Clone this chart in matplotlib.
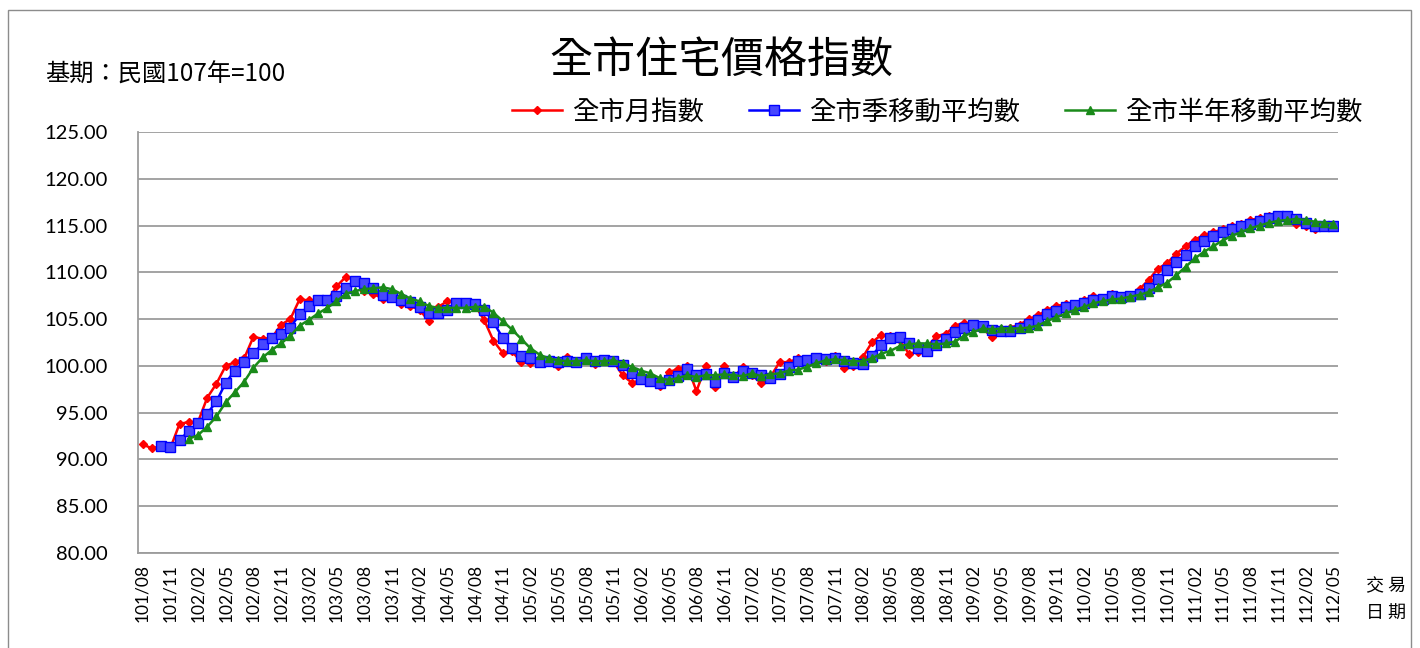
import numpy as np
import matplotlib
matplotlib.use("Agg")
import matplotlib.pyplot as plt
from matplotlib.lines import Line2D
from matplotlib.patches import Rectangle

CJK = ['Noto Sans CJK TC', 'DejaVu Sans']
NUM = ['Lato', 'DejaVu Sans']
nan = np.nan

tick_labels = ["101/08", "101/11", "102/02", "102/05", "102/08", "102/11", "103/02", "103/05",
               "103/08", "103/11", "104/02", "104/05", "104/08", "104/11", "105/02", "105/05",
               "105/08", "105/11", "106/02", "106/05", "106/08", "106/11", "107/02", "107/05",
               "107/08", "107/11", "108/02", "108/05", "108/08", "108/11", "109/02", "109/05",
               "109/08", "109/11", "110/02", "110/05", "110/08", "110/11", "111/02", "111/05",
               "111/08", "111/11", "112/02", "112/05"]

monthly = [91.6, 91.2, 91.4, 91.2, 93.8, 94.0, 94.0, 96.6, 98.1, 100.0,
           100.4, 100.8, 103.1, 102.9, 103.0, 104.4, 105.0, 107.1, 107.0, 107.0,
           106.9, 108.5, 109.5, 109.2, 108.0, 107.7, 107.2, 107.3, 106.6, 106.4,
           106.0, 104.8, 106.3, 106.9, 106.8, 106.5, 106.5, 104.9, 102.7, 101.4,
           101.6, 100.4, 100.3, 100.6, 100.5, 100.0, 100.9, 100.4, 101.0, 100.2,
           100.7, 100.5, 99.0, 98.2, 98.5, 98.4, 97.8, 99.3, 99.7, 100.0,
           97.3, 100.0, 97.7, 100.0, 98.7, 99.9, 99.0, 98.2, 98.8, 100.4,
           100.4, 100.8, 100.7, 100.9, 100.5, 101.1, 99.8, 100.0, 100.9, 102.5,
           103.3, 103.2, 102.8, 101.3, 101.5, 102.0, 103.2, 103.4, 104.3, 104.6,
           104.2, 104.0, 103.1, 103.9, 104.1, 104.4, 105.0, 105.4, 106.0, 106.4,
           106.6, 106.5, 107.0, 107.5, 107.2, 107.7, 107.3, 107.5, 108.2, 109.2,
           110.4, 111.0, 112.0, 112.8, 113.5, 114.0, 114.3, 114.6, 114.9, 115.2,
           115.6, 115.8, 116.0, 116.1, 115.8, 115.2, 115.0, 114.6, 114.9, 115.1]

quarterly = [nan, nan, 91.4, 91.3, 92.1, 93.0, 93.9, 94.9, 96.2, 98.2,
             99.5, 100.4, 101.4, 102.3, 103.0, 103.4, 104.1, 105.5, 106.4, 107.0,
             107.0, 107.5, 108.3, 109.1, 108.9, 108.3, 107.6, 107.4, 107.0, 106.8,
             106.3, 105.7, 105.7, 106.0, 106.7, 106.7, 106.6, 106.0, 104.7, 103.0,
             101.9, 101.1, 100.8, 100.4, 100.5, 100.4, 100.5, 100.4, 100.8, 100.5,
             100.6, 100.5, 100.1, 99.2, 98.6, 98.4, 98.2, 98.5, 98.9, 99.7,
             99.0, 99.1, 98.3, 99.2, 98.8, 99.5, 99.2, 99.0, 98.7, 99.1,
             99.9, 100.5, 100.6, 100.8, 100.7, 100.8, 100.5, 100.3, 100.2, 101.1,
             102.2, 103.0, 103.1, 102.4, 101.9, 101.6, 102.2, 102.9, 103.6, 104.1,
             104.4, 104.3, 103.8, 103.7, 103.7, 104.1, 104.5, 104.9, 105.5, 105.9,
             106.3, 106.5, 106.7, 107.0, 107.2, 107.5, 107.4, 107.5, 107.7, 108.3,
             109.3, 110.2, 111.1, 111.9, 112.8, 113.4, 113.9, 114.3, 114.6, 114.9,
             115.2, 115.5, 115.8, 116.0, 116.0, 115.7, 115.3, 114.9, 114.9, 115.0]

half_year = [nan, nan, nan, nan, nan, 92.2, 92.6, 93.5, 94.6, 96.1,
             97.2, 98.3, 99.8, 100.9, 101.7, 102.4, 103.2, 104.3, 104.9, 105.6,
             106.2, 106.9, 107.7, 108.0, 108.2, 108.3, 108.4, 108.2, 107.7, 107.2,
             106.9, 106.4, 106.2, 106.2, 106.2, 106.2, 106.3, 106.3, 105.7, 104.8,
             103.9, 102.9, 101.9, 101.2, 100.8, 100.6, 100.5, 100.5, 100.6, 100.5,
             100.5, 100.6, 100.3, 99.9, 99.5, 99.2, 98.7, 98.5, 98.7, 99.0,
             98.8, 99.0, 99.0, 99.1, 99.0, 98.9, 99.2, 98.9, 99.1, 99.2,
             99.5, 99.6, 99.9, 100.3, 100.6, 100.7, 100.6, 100.5, 100.5, 100.8,
             101.3, 101.6, 102.1, 102.3, 102.4, 102.4, 102.3, 102.4, 102.6, 103.2,
             103.6, 104.0, 103.9, 104.0, 104.0, 104.0, 104.1, 104.3, 104.8, 105.2,
             105.6, 106.0, 106.3, 106.7, 106.9, 107.1, 107.2, 107.4, 107.6, 107.9,
             108.4, 108.9, 109.7, 110.6, 111.5, 112.2, 112.8, 113.4, 113.9, 114.3,
             114.7, 115.0, 115.3, 115.5, 115.6, 115.7, 115.6, 115.4, 115.3, 115.2]

series_names = ["全市月指數", "全市季移動平均數", "全市半年移動平均數"]
y_ticks = [80, 85, 90, 95, 100, 105, 110, 115, 120, 125]

W, H = 1420, 648
fig = plt.figure(figsize=(W / 100, H / 100), dpi=100)
fig.patch.set_facecolor("white")
fig.patches.append(Rectangle((8 / W, -0.01), 1403 / W, 1 - 10 / H + 0.01, transform=fig.transFigure,
                             fill=False, edgecolor="#8c8c8c", linewidth=1.0))

ax = fig.add_axes([138 / W, 1 - 553 / H, 1200 / W, 421 / H])
x = np.arange(len(monthly))

red_kw = dict(color="#ff0000", lw=1.8, marker="D", ms=4.5, mfc="#ff0000", mec="#ff0000")
blue_kw = dict(color="#0000ff", lw=1.8, marker="s", ms=6.5, mfc="#4747ff", mec="#0000ff", mew=1.0)
green_kw = dict(color="#1a8a1a", lw=1.8, marker="^", ms=6, mfc="#1a8a1a", mec="#1a8a1a")

ax.plot(x, monthly, **red_kw, zorder=3)
ax.plot(x, quarterly, **blue_kw, zorder=4)
ax.plot(x, half_year, **green_kw, zorder=5)

ax.set_xlim(-0.5, len(monthly) - 0.5)
ax.set_ylim(80, 125)
ax.set_yticks(y_ticks)
ax.set_yticklabels([f"{v:.2f}" for v in y_ticks], fontfamily=NUM, fontsize=14.5)
ax.set_xticks(x[::3])
ax.set_xticklabels(tick_labels, rotation=90, fontfamily=NUM, fontsize=12.5)
ax.tick_params(axis="both", length=0, colors="black")
ax.tick_params(axis="y", pad=22)
ax.tick_params(axis="x", pad=8)
ax.grid(axis="y", color="#9c9c9c", linewidth=1.3)
ax.set_axisbelow(True)
for s in ["top", "right"]:
    ax.spines[s].set_visible(False)
for s in ["left", "bottom"]:
    ax.spines[s].set_color("#9c9c9c")
    ax.spines[s].set_linewidth(1.3)

fig.text(721 / W, 1 - 62 / H, "全市住宅價格指數", ha="center", va="center",
         fontfamily=CJK, fontsize=31, fontweight="medium")
fig.text(45 / W, 1 - 75 / H, "基期：民國107年=100", ha="left", va="center",
         fontfamily=CJK, fontsize=17.5)
fig.text(1386 / W, 1 - 586 / H, "交 易", ha="center", va="center", fontfamily=CJK, fontsize=13)
fig.text(1386 / W, 1 - 614 / H, "日 期", ha="center", va="center", fontfamily=CJK, fontsize=13)

handles = [Line2D([], [], **red_kw), Line2D([], [], **blue_kw), Line2D([], [], **green_kw)]
fig.legend(handles, series_names, loc="center", bbox_to_anchor=(937 / W, 1 - 112 / H), ncol=3,
           frameon=False, prop={"family": CJK, "size": 19}, handlelength=1.9,
           handletextpad=0.38, columnspacing=1.7, borderpad=0, markerscale=1.0)

fig.savefig("out.png", dpi=100, facecolor="white")
